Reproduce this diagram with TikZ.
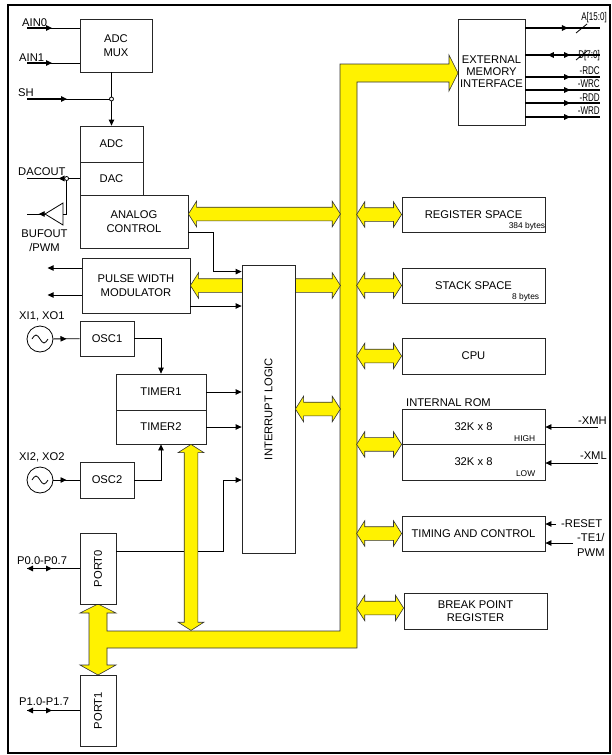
\documentclass[tikz,border=0pt]{standalone}
\usepackage{graphicx}
\usepackage{fontspec}
\setmainfont{Liberation Sans}
\usetikzlibrary{shapes.arrows, arrows.meta, calc, decorations.markings}

\tikzset{
  blk/.style={draw=black!85, line width=0.8pt, fill=white, inner sep=0pt, align=center},
  rblk/.style={blk, minimum width=143},
  yarr/.style={double arrow, draw=black!80, fill=yellow, line width=0.6pt, inner xsep=0pt,
    inner ysep=6.5pt, double arrow head extend=6, double arrow tip angle=115},
  sig/.style={line width=0.8pt},
  ext/.style={line width=1.4pt},
  midarr/.style={postaction=decorate, decoration={markings, mark=at position #1 with {\arrow{>}}}},
  lbl/.style={inner sep=0pt, anchor=base west},
  narrow/.style={inner sep=0pt, anchor=base east},
  tiny/.style={inner sep=0pt, anchor=base east, font=\fontsize{8.4}{10}\selectfont},
  osc/.style={circle, draw, line width=0.8pt, minimum size=26, inner sep=0pt},
}
\newcommand{\sqz}[1]{\scalebox{0.72}[1]{#1}}

\begin{document}
\begin{tikzpicture}[x=1pt, y=-1pt, >={Triangle[length=6pt,width=5.5pt]},
  font=\fontsize{11.2}{13.5}\selectfont]
\useasboundingbox (0,0) rectangle (611,755);
\draw[line width=2pt] (8,5) rectangle (610,753);

% main bus
\filldraw[fill=yellow, draw=black!80, line width=0.6pt]
  (340,64) -- (449,64) -- (449,55) -- (458,73) -- (449,91) -- (449,82) -- (357,82)
  -- (357,648) -- (107,648) -- (107,665) -- (116,665) -- (98,675) -- (80,665) -- (89,665)
  -- (89,613) -- (80,613) -- (98,604) -- (116,613) -- (107,613) -- (107,631) -- (340,631) -- cycle;

% left column
\node[blk, minimum width=72, minimum height=53] (mux) at (116,45.5) {ADC\\MUX};
\node[blk, minimum width=63, minimum height=36] (adc) at (111.5,144) {ADC};
\node[blk, minimum width=63, minimum height=33] (dac) at (111.5,178.5) {DAC};
\node[blk, minimum width=108, minimum height=53] (anactl) at (134,221.5) {ANALOG\\CONTROL};
\node[blk, minimum width=108, minimum height=55] (pwm) at (136,285.5) {PULSE WIDTH\\MODULATOR};
\node[blk, minimum width=54, minimum height=35] (osc1) at (107,338.5) {OSC1};
\node[blk, minimum width=90, minimum height=36] (tmr1) at (161,392) {TIMER1};
\node[blk, minimum width=90, minimum height=34] (tmr2) at (161,427) {TIMER2};
\node[blk, minimum width=54, minimum height=36] (osc2) at (107,480) {OSC2};
\node[blk, minimum width=36, minimum height=71] (port0) at (98,568.5) {\rotatebox{90}{PORT0}};
\node[blk, minimum width=36, minimum height=71] (port1) at (98,710.5) {\rotatebox{90}{PORT1}};

\node[yarr, minimum height=152] (aca) at ($(anactl.east)+(76,-7.5)$) {};
\node[yarr, minimum height=150] (pwa) at ($(pwm.east)+(75,0)$) {};
\node[blk, minimum width=53, minimum height=288] (intlog) at (268.5,409) {\rotatebox{90}{INTERRUPT LOGIC}};
\node[yarr, minimum height=45] (ila) at ($(intlog.east)+(22.5,0)$) {};

% right column
\node[blk, minimum width=67, minimum height=106, font=\fontsize{11.2}{12}\selectfont] (extmem) at (491.5,72) {EXTERNAL\\MEMORY\\INTERFACE};
\node[rblk, minimum height=35] (regsp) at (473.5,214.5) {REGISTER SPACE};
\node[rblk, minimum height=35] (stksp) at (473.5,285.5) {STACK SPACE};
\node[rblk, minimum height=36] (cpu) at (473.5,356) {CPU};
\node[rblk, minimum height=35] (romh) at (473.5,426.5) {32K x 8};
\node[rblk, minimum height=36] (roml) at (473.5,462) {32K x 8};
\node[rblk, minimum height=35] (tmg) at (473.5,533.5) {TIMING AND CONTROL};
\node[rblk, minimum height=36] (brk) at (475.5,611) {BREAK POINT\\REGISTER};
\node[tiny] (regsz) at ($(regsp.south east)+(0,-4)$) {384 bytes};
\node[tiny] (stksz) at ($(stksp.south east)+(-6,-4)$) {8 bytes};
\node[tiny] (hi) at ($(romh.south east)+(-10,-3)$) {HIGH};
\node[tiny] (lo) at ($(roml.south east)+(-10,-4)$) {LOW};
\node[lbl] (romlbl) at (406,406) {INTERNAL ROM};

\node[yarr, minimum height=45] (rga) at ($(regsp.west)+(-22.5,0)$) {};
\node[yarr, minimum height=45] (ska) at ($(stksp.west)+(-22.5,0)$) {};
\node[yarr, minimum height=45] (cpa) at ($(cpu.west)+(-22.5,0)$) {};
\node[yarr, minimum height=45] (rma) at ($(romh.south west)+(-22.5,0)$) {};
\node[yarr, minimum height=45] (tga) at ($(tmg.west)+(-22.5,0)$) {};
\node[yarr, minimum height=47] (bka) at ($(brk.west)+(-23.5,-3)$) {};

% analog inputs
\coordinate (ain0) at (27,28);
\coordinate (ain1) at (27,63);
\coordinate (sh) at (27,99);
\draw[sig] (ain0) -- (ain0 -| mux.west);
\draw[ext,->] (ain0) -- ++(25,0);
\draw[sig] (ain1) -- (ain1 -| mux.west);
\draw[ext,->] (ain1) -- ++(25,0);
\draw[sig,->] (adc.north |- mux.south) -- (adc.north);
\draw[sig] (sh) -- (sh -| adc.north);
\draw[ext,->] (sh) -- ++(40,0);
\draw[sig, fill=white] (sh -| adc.north) circle (2);
\node[lbl] (ain0l) at (22,26) {AIN0};
\node[lbl] (ain1l) at (19,61) {AIN1};
\node[lbl] (shl) at (18,96) {SH};

% dac output and buffer
\coordinate (dacout) at (27,178.5);
\coordinate (dacj) at ($(dac.west)+(-13,0)$);
\coordinate (buf) at (54,214);
\coordinate (bufout) at (27,214);
\draw[ext, midarr=0.4] (dac.west) -- (dacout);
\draw[sig] (dacj) |- ($(buf)+(9,0)$);
\draw[sig] ($(buf)+(9,-11)$) -- ($(buf)+(9,11)$) -- ($(buf)+(-9,0)$) -- cycle;
\draw[sig, midarr=0.35] ($(buf)+(-9,0)$) -- (bufout);
\draw[sig, fill=white] (dacj) circle (2);
\node[lbl] (dacl) at (18,175) {DACOUT};
\node[inner sep=0pt, anchor=base] (bufl) at (44.5,237) {BUFOUT};
\node[inner sep=0pt, anchor=base] (bufpwm) at (44.5,251) {/PWM};

% pwm and interrupt inputs
\draw[sig,->] ($(pwm.west)+(0,-17.5)$) -- ++(-34,0);
\draw[sig,->] ($(pwm.west)+(0,9.5)$) -- ++(-34,0);
\draw[sig,->] ($(anactl.east)+(0,10.5)$) -- ++(25,0) |- ($(intlog.north west)+(0,7)$);
\draw[sig,->] ($(pwm.east)+(0,20.5)$) coordinate (pwmint) -- (pwmint -| intlog.west);

% oscillators and timers
\node[osc] (xo1) at (40,339) {};
\draw[sig] ($(xo1)+(-8,0)$) sin ++(4,-4) cos ++(4,4) sin ++(4,4) cos ++(4,-4);
\draw[sig, midarr=0.5] (xo1) -- (osc1);
\node[lbl] (xo1l) at (19,319) {XI1, XO1};
\draw[sig,->] (osc1) -| (tmr1);
\draw[sig,->] (tmr1) -- (tmr1 -| intlog.west);
\draw[sig,->] (tmr2) -- (tmr2 -| intlog.west);
\node[osc] (xo2) at (40,480) {};
\draw[sig] ($(xo2)+(-8,0)$) sin ++(4,-4) cos ++(4,4) sin ++(4,4) cos ++(4,-4);
\draw[sig, midarr=0.5] (xo2) -- (osc2);
\draw[sig,->] (osc2) -| (tmr2);
\node[lbl] (xo2l) at (19,460) {XI2, XO2};

% ports
\draw[sig,->] ($(port0.east)+(0,-17.5)$) -- ++(107,0) |- ($(intlog.west)+(0,71)$);
\coordinate (p0) at (27,568.5);
\draw[ext] (port0) -- (p0);
\draw[ext,<->] (p0) -- ++(25,0);
\node[lbl] (p0l) at (17,564) {P0.0-P0.7};
\coordinate (p1) at (27,710.5);
\draw[ext] (port1) -- (p1);
\draw[ext,<->] (p1) -- ++(25,0);
\node[lbl] (p1l) at (19,705) {P1.0-P1.7};
\node[yarr, inner xsep=6.5pt, inner ysep=0pt, minimum height=186, shape border rotate=90] (tma) at ($(tmr2.south)+(30,93)$) {};

% external memory signals
\coordinate (aout) at (600,28);
\draw[ext, midarr=0.57] (aout -| extmem.east) -- (aout);
\draw[sig] ($(aout)+(-24,5)$) -- ++(11,-9);
\coordinate (dout) at (600,55);
\draw[ext, postaction=decorate, decoration={markings,
  mark=at position 0.3 with {\arrowreversed{>}},
  mark=at position 0.6 with {\arrow{>}}}] (dout -| extmem.east) -- (dout);
\draw[sig] ($(dout)+(-24,5)$) -- ++(11,-9);
\foreach \y/\n in {77/rdc, 90/wrc, 103/rdd, 117/wrd} {
  \coordinate (\n) at (600,\y);
  \draw[ext, midarr=0.6] (\n -| extmem.east) -- (\n);
}
\node[narrow] (al) at (607,20) {\sqz{A[15:0]}};
\node[narrow] (dl) at (600,58) {\sqz{D[7:0]}};
\node[narrow] (rdcl) at (600,74) {\sqz{-RDC}};
\node[narrow] (wrcl) at (600,87) {\sqz{-WRC}};
\node[narrow] (rddl) at (600,101) {\sqz{-RDD}};
\node[narrow] (wrdl) at (600,114) {\sqz{-WRD}};

% rom and timing inputs
\coordinate (xmh) at (598,427);
\draw[sig,->] (xmh) -- (xmh -| romh.east);
\node[narrow] (xmhl) at (607,424) {-XMH};
\coordinate (xml) at (598,463);
\draw[sig,->] (xml) -- (xml -| roml.east);
\node[narrow] (xmll) at (607,459) {-XML};
\coordinate (rst) at (556,524);
\draw[sig,->] (rst) -- (rst -| tmg.east);
\node[lbl] (rstl) at (561,527) {-RESET};
\coordinate (te1) at (573,543);
\draw[sig,->] (te1) -- (te1 -| tmg.east);
\node[lbl] (te1l) at (577,541) {-TE1/};
\node[lbl] (te1pwm) at (577,556) {PWM};
\end{tikzpicture}
\end{document}
